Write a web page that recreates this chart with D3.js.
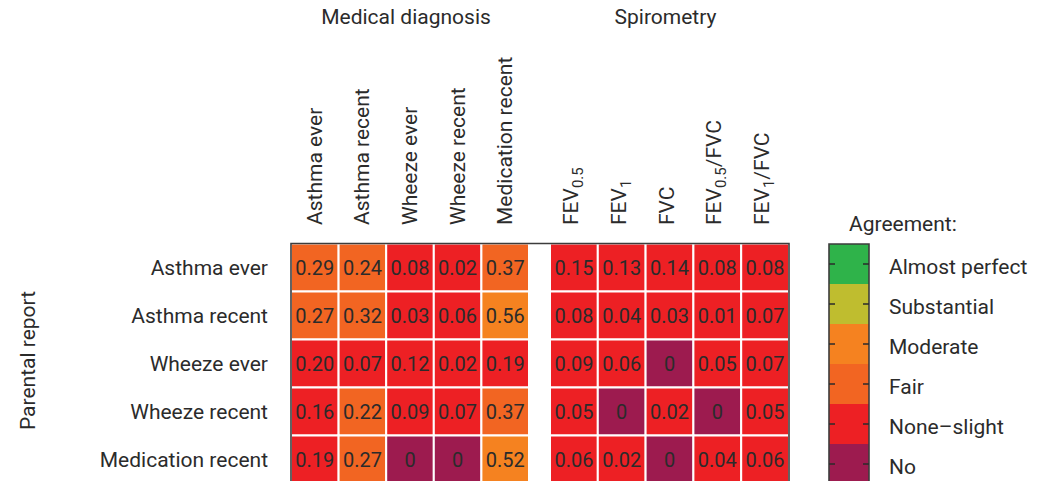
<!DOCTYPE html>
<html><head><meta charset="utf-8">
<script src="https://cdn.jsdelivr.net/npm/d3@7"></script>
<style>
html,body{margin:0;padding:0;background:#fff;}
svg{display:block;font-family:Roboto,"Noto Sans",sans-serif;}
</style></head>
<body><svg id="chart" width="1047" height="481"></svg>
<script>
const rowLabels = ["Asthma ever","Asthma recent","Wheeze ever","Wheeze recent","Medication recent"];
const medicalCols = ["Asthma ever","Asthma recent","Wheeze ever","Wheeze recent","Medication recent"];
// spirometry labels as [main, subscript, tail]
const spiroCols = [["FEV","0.5",""],["FEV","1",""],["FVC","",""],["FEV","0.5","/FVC"],["FEV","1","/FVC"]];
const medicalValues = [
  [0.29,0.24,0.08,0.02,0.37],
  [0.27,0.32,0.03,0.06,0.56],
  [0.20,0.07,0.12,0.02,0.19],
  [0.16,0.22,0.09,0.07,0.37],
  [0.19,0.27,0,0,0.52]
];
const spiroValues = [
  [0.15,0.13,0.14,0.08,0.08],
  [0.08,0.04,0.03,0.01,0.07],
  [0.09,0.06,0,0.05,0.07],
  [0.05,0,0.02,0,0.05],
  [0.06,0.02,0,0.04,0.06]
];
const agreementLabels = ["Almost perfect","Substantial","Moderate","Fair","None\u2013slight","No"];
const agreementColors = ["#2fb34a","#bfbd2f","#f58220","#f26522","#ed2024","#9d1b4f"];
const kappaBreaks = [0.001,0.205,0.405,0.605,0.805];

const svg = d3.select("#chart");
const textColor = "#2b2b2b";
const fs = 20;   // cell numbers
const lfs = 21;  // labels

const color = d3.scaleThreshold().domain(kappaBreaks)
  .range(agreementColors.slice().reverse());

const y = d3.scaleBand().domain(rowLabels).range([243.5, 483.5]);
const xMed = d3.scaleBand().domain(medicalCols.map((d,i)=>i)).range([291, 529]);
const xSpi = d3.scaleBand().domain(spiroCols.map((d,i)=>i)).range([550, 789]);
const fmt = v => v === 0 ? "0" : d3.format(".2f")(v);

function drawBlock(values, x) {
  const cells = [];
  values.forEach((row, r) => row.forEach((v, c) => cells.push({r, c, v})));
  const g = svg.append("g");
  g.selectAll("rect").data(cells).join("rect")
    .attr("x", d => x(d.c)).attr("y", d => y(rowLabels[d.r]))
    .attr("width", x.bandwidth()).attr("height", y.bandwidth())
    .attr("fill", d => color(d.v))
    .attr("stroke", "#fff").attr("stroke-width", 2);
  g.selectAll("text").data(cells).join("text")
    .attr("x", d => x(d.c) + x.bandwidth()/2)
    .attr("y", d => y(rowLabels[d.r]) + y.bandwidth()/2)
    .attr("dy", "0.36em")
    .attr("text-anchor", "middle")
    .attr("font-size", fs).attr("fill", textColor)
    .text(d => fmt(d.v));
}
drawBlock(medicalValues, xMed);
drawBlock(spiroValues, xSpi);

// frame
const gridTop = y.range()[0], gridBot = y.range()[1];
svg.append("path")
  .attr("d", `M291,${gridBot} V${gridTop} H789 V${gridBot}`)
  .attr("fill","none").attr("stroke","#3c3c3c").attr("stroke-width",1.6);

// row labels
svg.append("g").selectAll("text").data(rowLabels).join("text")
  .attr("x", 268).attr("y", d => y(d) + y.bandwidth()/2)
  .attr("dy","0.36em").attr("text-anchor","end")
  .attr("font-size", lfs).attr("fill", textColor).text(d => d);

svg.append("text")
  .attr("transform", `translate(35,${(gridTop+gridBot)/2 - 3}) rotate(-90)`)
  .attr("text-anchor","middle").attr("font-size", lfs).attr("fill", textColor)
  .text("Parental report");

// column labels
const labelBase = 225;
svg.append("g").selectAll("text").data(medicalCols).join("text")
  .attr("transform", (d,i) => `translate(${xMed(i) + xMed.bandwidth()/2 + 7},${labelBase}) rotate(-90)`)
  .attr("font-size", lfs).attr("fill", textColor).text(d => d);

const spiG = svg.append("g").selectAll("text").data(spiroCols).join("text")
  .attr("transform", (d,i) => `translate(${xSpi(i) + xSpi.bandwidth()/2 + 4},${labelBase}) rotate(-90)`)
  .attr("font-size", lfs).attr("fill", textColor);
spiG.each(function(d){
  const t = d3.select(this);
  t.append("tspan").text(d[0]);
  if (d[1]) t.append("tspan").attr("dy", 5).attr("font-size", 15).text(d[1]);
  if (d[2]) t.append("tspan").attr("dy", d[1] ? -5 : 0).text(d[2]);
});

svg.append("text").attr("x", (291+529)/2 - 4).attr("y", 24)
  .attr("text-anchor","middle").attr("font-size", lfs).attr("fill", textColor)
  .text("Medical diagnosis");
svg.append("text").attr("x", (550+789)/2 - 4).attr("y", 24)
  .attr("text-anchor","middle").attr("font-size", lfs).attr("fill", textColor)
  .text("Spirometry");

// legend
const ly = d3.scaleBand().domain(agreementLabels).range([244, 484]);
const lx0 = 829, lx1 = 869;
const lg = svg.append("g");
lg.selectAll("rect").data(agreementLabels).join("rect")
  .attr("x", lx0).attr("y", d => ly(d)).attr("width", lx1-lx0).attr("height", ly.bandwidth())
  .attr("fill", (d,i) => agreementColors[i]);
lg.append("path").attr("d", `M${lx0},${ly.range()[1]} V${ly.range()[0]} H${lx1} V${ly.range()[1]}`)
  .attr("fill","none").attr("stroke","#3c3c3c").attr("stroke-width",1.6);
lg.selectAll("path.tick").data(agreementLabels).join("path").attr("class","tick")
  .attr("d", d => {const cy = ly(d) + ly.bandwidth()/2; return `M${lx0},${cy}h6M${lx1},${cy}h-6`;})
  .attr("stroke","#2b2b2b").attr("stroke-width",1.5);
lg.selectAll("text").data(agreementLabels).join("text")
  .attr("x", 889).attr("y", d => ly(d) + ly.bandwidth()/2 + 2)
  .attr("dy","0.36em").attr("font-size", lfs).attr("fill", textColor).text(d => d);
svg.append("text").attr("x", 849).attr("y", 231).attr("font-size", lfs).attr("fill", textColor)
  .text("Agreement:");
</script></body></html>
